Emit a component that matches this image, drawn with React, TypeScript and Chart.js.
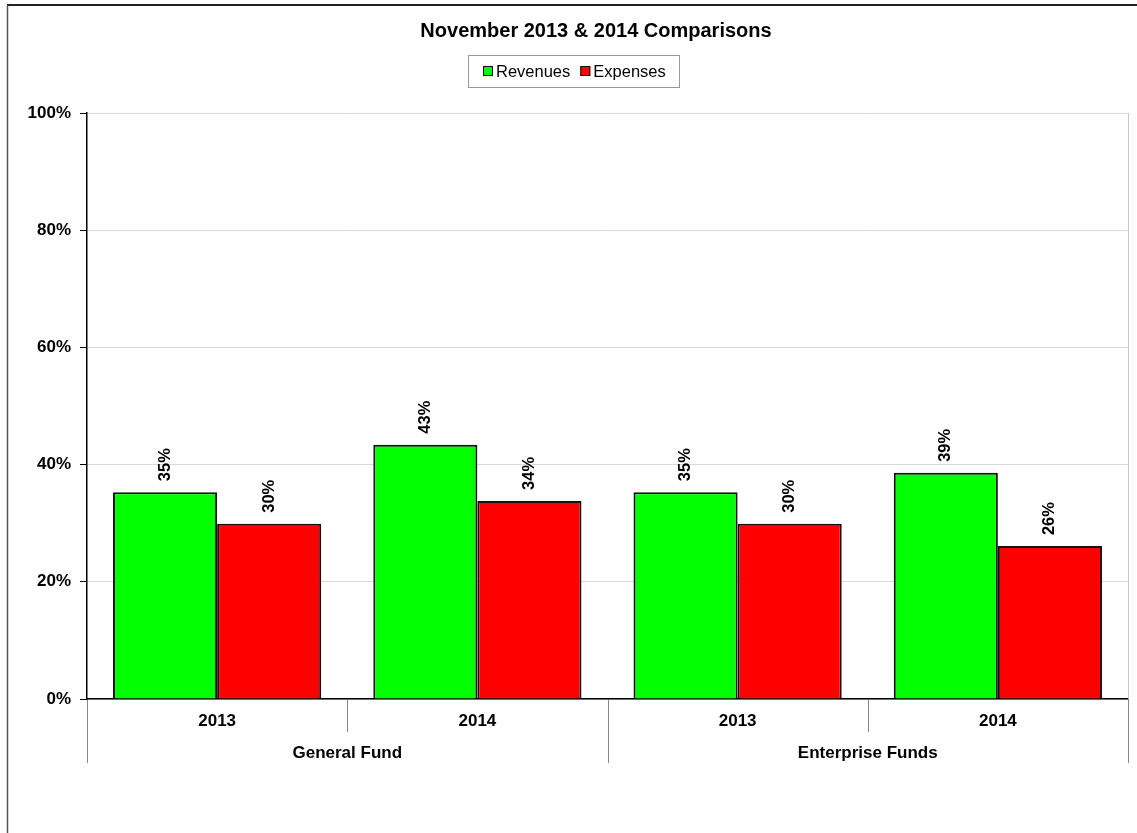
import { useEffect, useRef } from "react";
import { Chart, registerables } from "chart.js";

Chart.register(...registerables);

// Chart data
const chartTitle = "November 2013 & 2014 Comparisons";
const fundGroups = ["General Fund", "Enterprise Funds"];
const yearLabels = ["2013", "2014", "2013", "2014"];
const seriesNames = ["Revenues", "Expenses"];
const revenuePct = [35.3, 43.4, 35.3, 38.6];
const expensePct = [29.9, 33.8, 29.9, 26.1];
const yTickValues = [0, 20, 40, 60, 80, 100];

const GREEN = "#00ff00";
const RED = "#ff0000";
const FONT = '"Liberation Sans", Arial, Helvetica, sans-serif';

// Draws the page frame, title, legend, hierarchical category axis and value labels
const decorations = {
  id: "decorations",
  beforeDraw(chart: any) {
    const { ctx, width, height } = chart;
    ctx.save();
    ctx.fillStyle = "#ffffff";
    ctx.fillRect(0, 0, width, height);
    ctx.restore();
  },
  afterDatasetsDraw(chart: any) {
    const { ctx } = chart;
    ctx.save();
    ctx.fillStyle = "#000";
    ctx.font = `bold 16.5px ${FONT}`;
    ctx.textAlign = "left";
    ctx.textBaseline = "middle";
    chart.data.datasets.forEach((ds: any, di: number) => {
      const meta = chart.getDatasetMeta(di);
      meta.data.forEach((el: any, i: number) => {
        const v = ds.data[i];
        ctx.save();
        ctx.translate(el.x, el.y - 11);
        ctx.rotate(-Math.PI / 2);
        ctx.fillText(Math.round(v) + "%", 0, 0);
        ctx.restore();
      });
    });
    ctx.restore();
  },
  afterDraw(chart: any) {
    const { ctx, chartArea, width, height } = chart;
    const xs = chart.scales.x;
    const { left, right, top, bottom } = chartArea;
    ctx.save();

    // page frame
    ctx.strokeStyle = "#222";
    ctx.lineWidth = 2;
    ctx.beginPath();
    ctx.moveTo(7, 5);
    ctx.lineTo(width, 5);
    ctx.stroke();
    ctx.strokeStyle = "#555";
    ctx.lineWidth = 1.5;
    ctx.beginPath();
    ctx.moveTo(7.5, 5);
    ctx.lineTo(7.5, height);
    ctx.stroke();

    // plot area right edge
    ctx.strokeStyle = "#c8c8c8";
    ctx.lineWidth = 1;
    ctx.beginPath();
    ctx.moveTo(Math.round(right) + 0.5, top);
    ctx.lineTo(Math.round(right) + 0.5, bottom);
    ctx.stroke();

    // title
    ctx.fillStyle = "#000";
    ctx.font = `bold 20px ${FONT}`;
    ctx.textAlign = "center";
    ctx.textBaseline = "middle";
    ctx.fillText(chartTitle, 596, 31);

    // legend
    const lx = 468.5, ly = 55.5, lw = 211, lh = 32;
    ctx.strokeStyle = "#999";
    ctx.lineWidth = 1;
    ctx.strokeRect(lx, ly, lw, lh);
    ctx.font = `16.5px ${FONT}`;
    ctx.textAlign = "left";
    const colors = [GREEN, RED];
    let cx = 483;
    seriesNames.forEach((name, i) => {
      ctx.fillStyle = colors[i];
      ctx.fillRect(cx, 66, 10, 10);
      ctx.strokeStyle = "#111";
      ctx.strokeRect(cx + 0.5, 66.5, 9, 9);
      ctx.fillStyle = "#000";
      ctx.fillText(name, cx + 13, 72);
      cx += 13 + ctx.measureText(name).width + 10;
    });

    // category axis: year labels, separators, fund group labels
    const n = yearLabels.length;
    const step = (right - left) / n;
    ctx.strokeStyle = "#888";
    ctx.lineWidth = 1;
    for (let i = 0; i <= n; i++) {
      const x = Math.round(left + i * step) + 0.5;
      const outer = i % 2 === 0;
      ctx.beginPath();
      ctx.moveTo(x, bottom + 1);
      ctx.lineTo(x, outer ? bottom + 64 : bottom + 33);
      ctx.stroke();
    }
    ctx.fillStyle = "#000";
    ctx.font = `bold 17px ${FONT}`;
    ctx.textAlign = "center";
    ctx.textBaseline = "middle";
    yearLabels.forEach((lab, i) => {
      ctx.fillText(lab, xs.getPixelForValue(i), bottom + 22);
    });
    fundGroups.forEach((g, gi) => {
      const x0 = xs.getPixelForValue(gi * 2);
      const x1 = xs.getPixelForValue(gi * 2 + 1);
      ctx.fillText(g, (x0 + x1) / 2, bottom + 54);
    });

    ctx.restore();
  },
};

export default function App() {
  const canvasRef = useRef<HTMLCanvasElement | null>(null);

  useEffect(() => {
    const canvas = canvasRef.current;
    if (!canvas) return;
    const chart = new Chart(canvas, {
      type: "bar",
      data: {
        labels: yearLabels,
        datasets: [
          {
            label: seriesNames[0],
            data: revenuePct,
            backgroundColor: GREEN,
            borderColor: "#111",
            borderWidth: 2,
            barPercentage: 1,
            categoryPercentage: 0.8,
          },
          {
            label: seriesNames[1],
            data: expensePct,
            backgroundColor: RED,
            borderColor: "#111",
            borderWidth: 2,
            barPercentage: 1,
            categoryPercentage: 0.8,
          },
        ],
      },
      options: {
        responsive: false,
        animation: false,
        layout: { padding: { left: 0, right: 9, top: 113, bottom: 134 } },
        plugins: {
          legend: { display: false },
          title: { display: false },
          tooltip: { enabled: false },
        },
        scales: {
          x: {
            grid: { display: false, drawTicks: false },
            border: { display: true, color: "#000", width: 1.5 },
            ticks: { display: false },
            afterFit: (s: any) => {
              s.height = 0;
            },
          },
          y: {
            min: 0,
            max: 100,
            afterBuildTicks: (s: any) => {
              s.ticks = yTickValues.map((v) => ({ value: v }));
            },
            grid: {
              color: "#d9d9d9",
              tickColor: "#000",
              tickLength: 7,
              lineWidth: 1,
            },
            border: { display: true, color: "#000", width: 1.5 },
            ticks: {
              padding: 9,
              color: "#000",
              font: { family: FONT, size: 17, weight: "bold" },
              callback: (v: any) => v + "%",
            },
            afterFit: (s: any) => {
              s.width = 87;
            },
          },
        },
      },
      plugins: [decorations],
    });
    return () => chart.destroy();
  }, []);

  return (
    <div style={{ position: "absolute", left: 0, top: 0, width: 1137, height: 833 }}>
      <canvas ref={canvasRef} width={1137} height={833} />
    </div>
  );
}
